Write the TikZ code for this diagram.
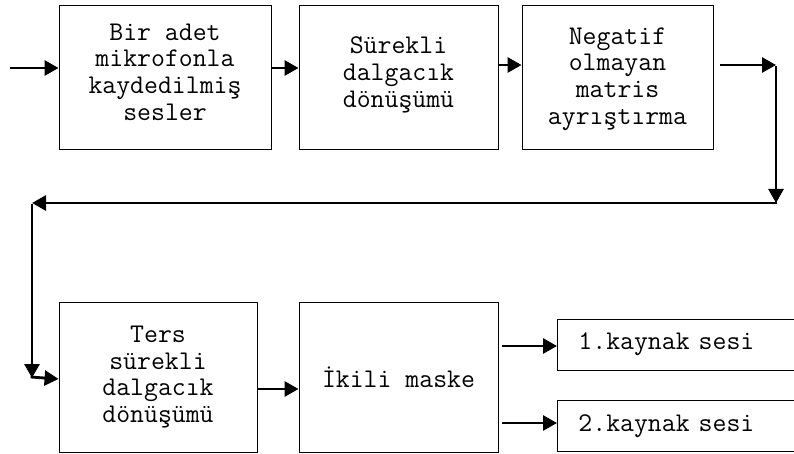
\documentclass[tikz,border=0pt]{standalone}
\usepackage{fontspec}
\usetikzlibrary{arrows.meta}
\begin{document}
\begin{tikzpicture}[x=1pt,y=-1pt,
  txt/.style={inner sep=0pt,align=center,
    font=\fontsize{27}{26.7}\selectfont\ttfamily},
  block/.style={draw=black,line width=0.9pt,inner sep=0pt},
  outbox/.style={draw=black,line width=0.9pt,anchor=west,inner ysep=0pt,
    inner xsep=21pt,text width=230pt,minimum height=51pt,align=left,
    font=\fontsize{27}{26.7}\selectfont\ttfamily},
  flow/.style={line width=2.8pt,-{Triangle[length=14pt,width=15pt]}}]
\useasboundingbox (0,0) rectangle (794,454);
\clip (0,0) rectangle (794,454);

% processing blocks
\node[block,minimum width=212pt,minimum height=144pt] (rec) at (165,77) {};
\node[block,minimum width=199pt,minimum height=144pt] (cwt) at (398.5,77) {};
\node[block,minimum width=191pt,minimum height=144pt] (nmf) at (617.5,77) {};
\node[block,minimum width=198pt,minimum height=150pt] (icwt) at (158,377) {};
\node[block,minimum width=199pt,minimum height=150pt] (mask) at (398.5,377) {};

% block captions
\node[txt] (recT) at (165,72) {Bir adet\\mikrofonla\\kaydedilmiş\\sesler};
\node[txt] (cwtT) at (398.5,75) {Sürekli\\dalgacık\\dönüşümü};
\node[txt] (nmfT) at (617.5,79) {Negatif\\olmayan\\matris\\ayrıştırma};
\node[txt] (icwtT) at (158,377) {Ters\\sürekli\\dalgacık\\dönüşümü};
\node[txt] (maskT) at (398.5,377) {İkili maske};

% outputs
\node[outbox] (src1) at (557,344.5) {1.kaynak sesi};
\node[outbox] (src2) at (557,426) {2.kaynak sesi};

% routing points
\coordinate (in) at (10,68);
\coordinate (c1) at (720,65);
\coordinate (c2) at (776,65);
\coordinate (c3) at (776,203);
\coordinate (c4) at (32,203);
\coordinate (c5) at (32,378);
\coordinate (m1) at (502,346);
\coordinate (m2) at (502,423);

% connectors
\draw[flow] (in) -- (rec.west |- in);
\draw[flow] (rec.east |- in) -- (cwt.west |- in);
\draw[flow] (cwt.east |- c1) -- (nmf.west |- c1);
\draw[flow] (c1) -- (c2);
\draw[flow] ([yshift=-1.4pt]c2) -- (c3);
\draw[flow] ([xshift=1.4pt]c3) -- (c4);
\draw[flow] ([yshift=-1.4pt]c4) -- (c5);
\draw[flow] ([xshift=-1.4pt,yshift=1pt]c5) -- (icwt.west |- 0,379);
\draw[flow] (icwt.east |- 0,389) -- (mask.west |- 0,389);
\draw[flow] (m1) -- (src1.west |- m1);
\draw[flow] (m2) -- (src2.west |- m2);
\end{tikzpicture}
\end{document}
